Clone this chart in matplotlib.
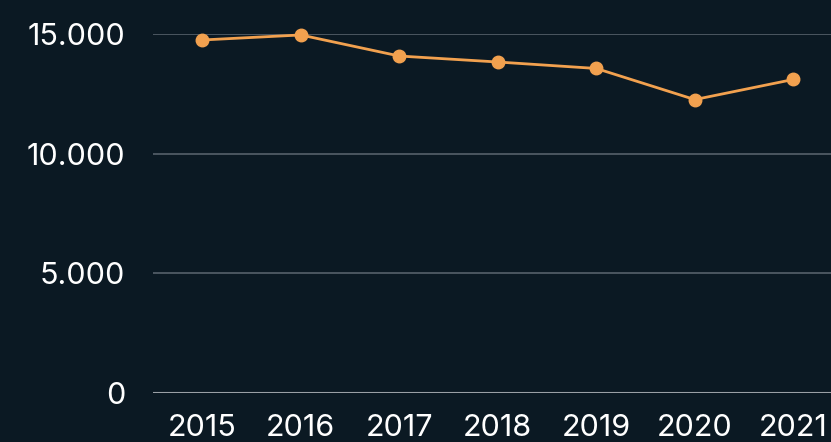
import matplotlib
matplotlib.use("Agg")
import matplotlib.pyplot as plt
from matplotlib.ticker import FuncFormatter

years = [2015, 2016, 2017, 2018, 2019, 2020, 2021]
values = [14750, 14960, 14080, 13830, 13560, 12260, 13100]
y_ticks = [0, 5000, 10000, 15000]

BG = "#0b1923"
LINE = "#f2a14f"

plt.rcParams['font.family'] = ['Inter', 'DejaVu Sans']

fig = plt.figure(figsize=(8.31, 4.42), dpi=100, facecolor=BG)
ax = fig.add_axes([153 / 831, 49 / 442, 678 / 831, 359 / 442], facecolor=BG)

ax.plot(years, values, color=LINE, lw=2, marker='o', ms=9,
        clip_on=False, zorder=3)

ax.set_xlim(2014.5, 2014.5 + 678 / 98.5)
ax.set_ylim(0, 15000)
ax.set_yticks(y_ticks)
ax.yaxis.set_major_formatter(FuncFormatter(lambda v, p: f"{int(v):,}".replace(",", ".")))
ax.set_xticks(years)

ax.grid(axis='y', color="#56616b", lw=1.2)
ax.set_axisbelow(True)
for s in ax.spines.values():
    s.set_visible(False)
ax.axhline(0, color="#9aa0a6", lw=1.5, zorder=2)

ax.tick_params(length=0, colors="white", labelsize=22)
ax.tick_params(axis='y', pad=20)
ax.tick_params(axis='x', pad=15)

fig.savefig("out.png", dpi=100, facecolor=BG)
